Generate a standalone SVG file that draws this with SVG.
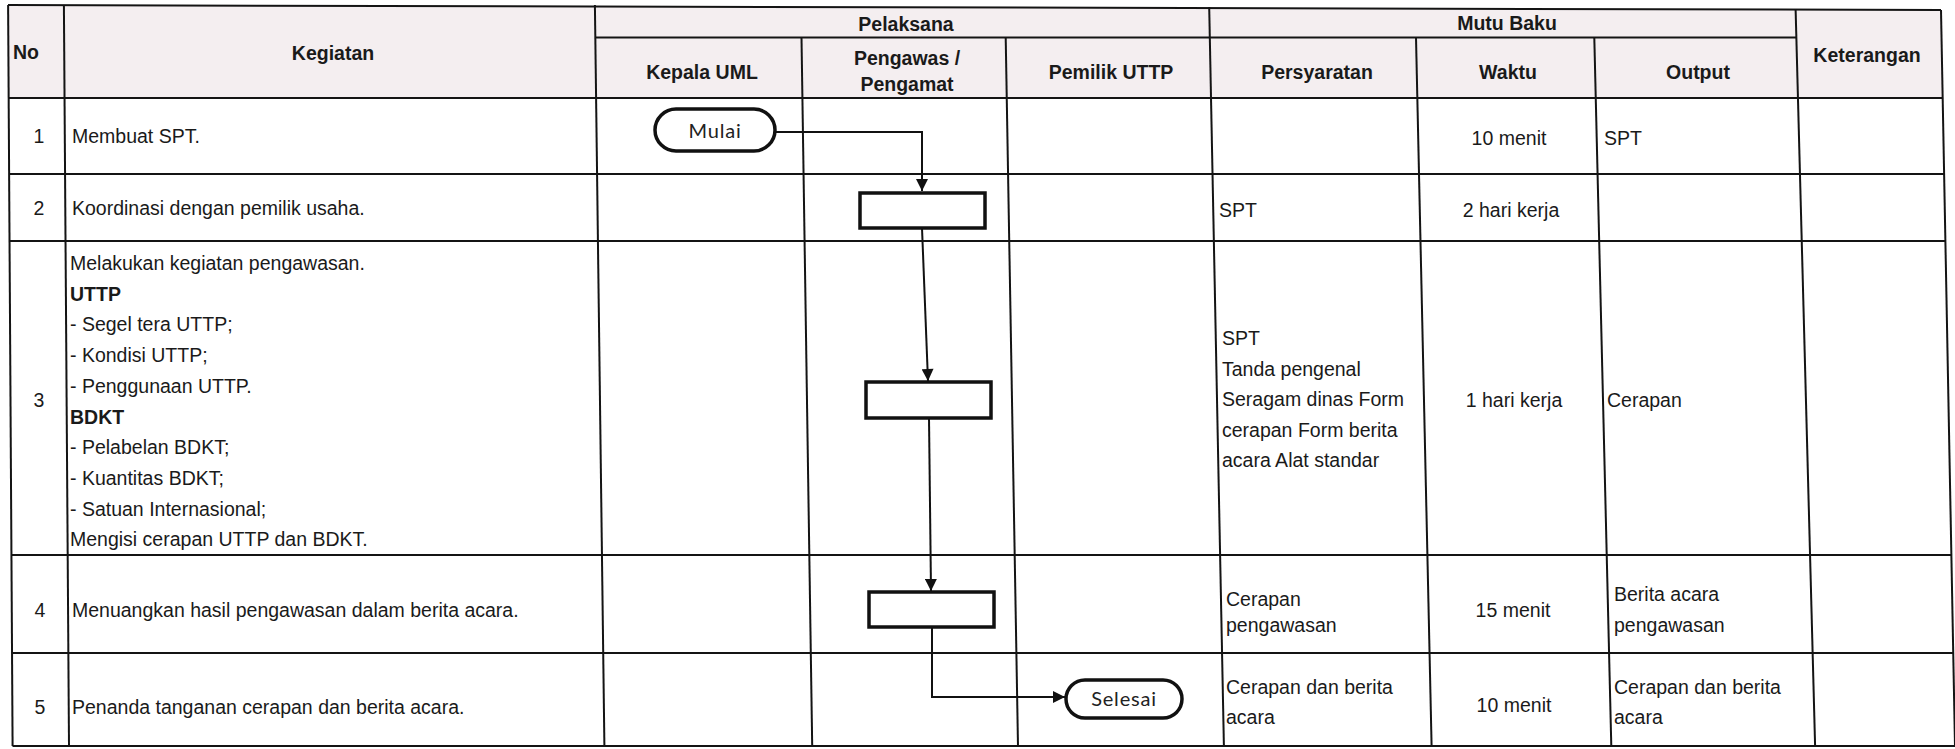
<svg xmlns="http://www.w3.org/2000/svg" width="1955" height="749" viewBox="0 0 1955 749">
<defs>
<style>
.g{stroke:#141414;stroke-width:2;fill:none}
.h{font-family:"Liberation Sans",Arial,sans-serif;font-size:19.5px;font-weight:bold;fill:#1a1a1a}
.t{font-family:"Liberation Sans",Arial,sans-serif;font-size:19.5px;fill:#1a1a1a}
.c{text-anchor:middle}
.b{font-weight:bold}
.box{fill:#fff;stroke:#111;stroke-width:3.5}
.pill{fill:#fff;stroke:#111;stroke-width:3.5}
.pt{font-family:Lato,"Open Sans",sans-serif;font-size:20px;fill:#222;text-anchor:middle;letter-spacing:0.8px}
.con{stroke:#111;stroke-width:2;fill:none}
</style>
<marker id="ar" viewBox="0 0 10 10" refX="10" refY="5" markerWidth="6.5" markerHeight="6" markerUnits="strokeWidth" orient="auto">
<path d="M0,0 L10,5 L0,10 z" fill="#111"/>
</marker>
</defs>
<rect width="1955" height="749" fill="#fff"/>
<path d="M8,5 L1941,10 L1943,98 L8.6,98 z" fill="#f4eef0"/>
<g id="grid">
<line class="g" x1="8" y1="5" x2="1941" y2="10"/>
<line class="g" x1="595.3" y1="37.5" x2="1796.5" y2="37.5"/>
<line class="g" x1="8.6" y1="98" x2="1943" y2="98"/>
<line class="g" x1="9.1" y1="174" x2="1944" y2="174"/>
<line class="g" x1="9.5" y1="241" x2="1945.5" y2="241"/>
<line class="g" x1="11.4" y1="555" x2="1951.4" y2="555"/>
<line class="g" x1="12" y1="653" x2="1953" y2="653"/>
<line class="g" x1="12.5" y1="746" x2="1955" y2="746"/>
<line class="g" x1="8.1" y1="5" x2="12.6" y2="746"/>
<line class="g" x1="63.9" y1="5" x2="69" y2="746"/>
<line class="g" x1="594.9" y1="5" x2="604.4" y2="746"/>
<line class="g" x1="801.5" y1="37.5" x2="812.2" y2="746"/>
<line class="g" x1="1005.7" y1="37.5" x2="1018" y2="746"/>
<line class="g" x1="1209.2" y1="7" x2="1223.9" y2="746"/>
<line class="g" x1="1416" y1="37.5" x2="1431.6" y2="746"/>
<line class="g" x1="1594.3" y1="37.5" x2="1611.3" y2="746"/>
<line class="g" x1="1795.6" y1="9" x2="1815.1" y2="746"/>
<line class="g" x1="1941" y1="10" x2="1955" y2="746"/>
</g>
<g id="header">
<text class="h" x="13" y="59">No</text>
<text class="h c" x="333" y="60">Kegiatan</text>
<text class="h c" x="906" y="31">Pelaksana</text>
<text class="h c" x="702" y="79">Kepala UML</text>
<text class="h c" x="907" y="65">Pengawas /</text>
<text class="h c" x="907" y="91">Pengamat</text>
<text class="h c" x="1111" y="79">Pemilik UTTP</text>
<text class="h c" x="1507" y="30">Mutu Baku</text>
<text class="h c" x="1317" y="79">Persyaratan</text>
<text class="h c" x="1508" y="79">Waktu</text>
<text class="h c" x="1698" y="79">Output</text>
<text class="h c" x="1867" y="62">Keterangan</text>
</g>
<g id="row1">
<text class="t c" x="39" y="143">1</text>
<text class="t" x="72" y="143">Membuat SPT.</text>
<text class="t c" x="1509" y="145">10 menit</text>
<text class="t" x="1604" y="145">SPT</text>
</g>
<g id="row2">
<text class="t c" x="39" y="215">2</text>
<text class="t" x="72" y="215">Koordinasi dengan pemilik usaha.</text>
<text class="t" x="1219" y="217">SPT</text>
<text class="t c" x="1511" y="217">2 hari kerja</text>
</g>
<g id="row3">
<text class="t c" x="39" y="407">3</text>
<text class="t" x="70" y="270">Melakukan kegiatan pengawasan.</text>
<text class="t b" x="70" y="300.7">UTTP</text>
<text class="t" x="70" y="331.4">- Segel tera UTTP;</text>
<text class="t" x="70" y="362.1">- Kondisi UTTP;</text>
<text class="t" x="70" y="392.8">- Penggunaan UTTP.</text>
<text class="t b" x="70" y="423.5">BDKT</text>
<text class="t" x="70" y="454.2">- Pelabelan BDKT;</text>
<text class="t" x="70" y="484.9">- Kuantitas BDKT;</text>
<text class="t" x="70" y="515.6">- Satuan Internasional;</text>
<text class="t" x="70" y="546.3">Mengisi cerapan UTTP dan BDKT.</text>
<text class="t" x="1222" y="345">SPT</text>
<text class="t" x="1222" y="375.5">Tanda pengenal</text>
<text class="t" x="1222" y="406">Seragam dinas Form</text>
<text class="t" x="1222" y="436.5">cerapan Form berita</text>
<text class="t" x="1222" y="467">acara Alat standar</text>
<text class="t c" x="1514" y="407">1 hari kerja</text>
<text class="t" x="1607" y="407">Cerapan</text>
</g>
<g id="row4">
<text class="t c" x="40" y="617">4</text>
<text class="t" x="72" y="617">Menuangkan hasil pengawasan dalam berita acara.</text>
<text class="t" x="1226" y="606">Cerapan</text>
<text class="t" x="1226" y="632">pengawasan</text>
<text class="t c" x="1513" y="617">15 menit</text>
<text class="t" x="1614" y="601">Berita acara</text>
<text class="t" x="1614" y="632">pengawasan</text>
</g>
<g id="row5">
<text class="t c" x="40" y="714">5</text>
<text class="t" x="72" y="714">Penanda tanganan cerapan dan berita acara.</text>
<text class="t" x="1226" y="694">Cerapan dan berita</text>
<text class="t" x="1226" y="724">acara</text>
<text class="t c" x="1514" y="712">10 menit</text>
<text class="t" x="1614" y="694">Cerapan dan berita</text>
<text class="t" x="1614" y="724">acara</text>
</g>
<g id="connectors">
<polyline class="con" points="775,132 922,132 922,191" marker-end="url(#ar)"/>
<line class="con" x1="922" y1="228" x2="928" y2="381" marker-end="url(#ar)"/>
<line class="con" x1="929" y1="418" x2="931" y2="591" marker-end="url(#ar)"/>
<polyline class="con" points="932,627 932,697 1065,697" marker-end="url(#ar)"/>
</g>
<g id="node-mulai">
<rect class="pill" x="655" y="109" width="120" height="42" rx="21"/>
<text class="pt" x="715" y="138">Mulai</text>
</g>
<g id="node-box2">
<rect class="box" x="860" y="193" width="125" height="35"/>
</g>
<g id="node-box3">
<rect class="box" x="866" y="382" width="125" height="36"/>
</g>
<g id="node-box4">
<rect class="box" x="869" y="592" width="125" height="35"/>
</g>
<g id="node-selesai">
<rect class="pill" x="1066" y="680" width="116" height="38" rx="19"/>
<text class="pt" x="1124" y="706">Selesai</text>
</g>
</svg>
